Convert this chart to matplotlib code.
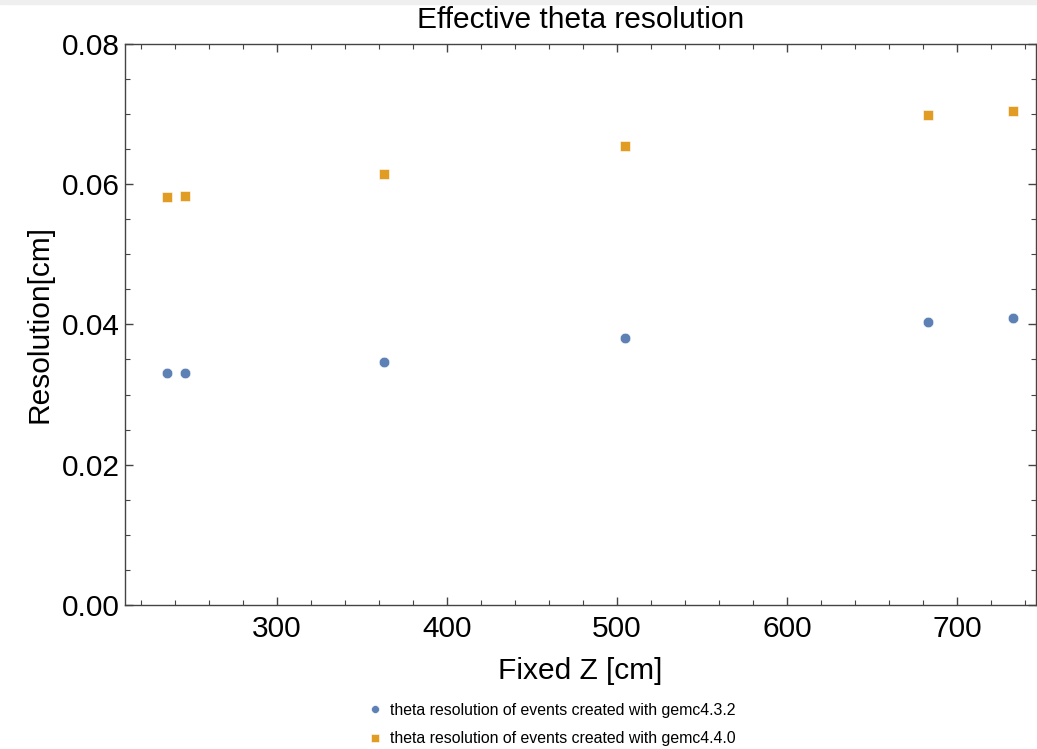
import matplotlib
matplotlib.use("Agg")
import matplotlib.pyplot as plt
from matplotlib.patches import Rectangle
from matplotlib.ticker import MultipleLocator

# fixed Z positions [cm] and theta resolution [cm]
z_cm = [235.5, 246.0, 363.0, 505.0, 683.0, 733.0]
res_gemc432 = [0.0330, 0.0330, 0.0347, 0.0381, 0.0404, 0.0409]
res_gemc440 = [0.0582, 0.0583, 0.0614, 0.0654, 0.0698, 0.0704]
labels = ["theta resolution of events created with gemc4.3.2",
          "theta resolution of events created with gemc4.4.0"]

BLUE = "#5E81B5"
ORANGE = "#E19C24"
FRAME = "#444444"

plt.rcParams.update({"font.family": ["Liberation Sans", "DejaVu Sans"]})

fig = plt.figure(figsize=(10.37, 7.49), dpi=100)
fig.patches.append(Rectangle((0, 1 - 4 / 749), 1, 4 / 749, transform=fig.transFigure,
                             color="#EFEFEF", zorder=-1))
ax = fig.add_axes([125 / 1037, 1 - 605 / 749, 911 / 1037, (605 - 43.7) / 749])

ax.plot(z_cm, res_gemc432, "o", color=BLUE, ms=7.6, mec="white", mew=0.4, label=labels[0])
ax.plot(z_cm, res_gemc440, "s", color=ORANGE, ms=7.6, mec="white", mew=0.4, label=labels[1])

ax.set_xlim(210.6, 746.5)
ax.set_ylim(0, 0.08)
ax.xaxis.set_major_locator(MultipleLocator(100))
ax.xaxis.set_minor_locator(MultipleLocator(20))
ax.yaxis.set_major_locator(MultipleLocator(0.02))
ax.yaxis.set_minor_locator(MultipleLocator(0.005))
ax.yaxis.set_major_formatter(matplotlib.ticker.FormatStrFormatter("%.2f"))

for s in ax.spines.values():
    s.set_color(FRAME)
    s.set_linewidth(1.0)
ax.tick_params(which="both", direction="in", top=True, right=True, color=FRAME)
ax.tick_params(which="major", length=6, width=1.0, labelsize=21.5)
ax.tick_params(axis="x", which="major", pad=7)
ax.tick_params(axis="y", which="major", pad=4)
ax.tick_params(which="minor", length=3.5, width=0.8)

ax.set_title("Effective theta resolution", fontsize=21.5, pad=11)
ax.set_xlabel("Fixed Z [cm]", fontsize=21.5, labelpad=10)
ax.set_ylabel("Resolution[cm]", fontsize=21.5, labelpad=6)

fig.legend(loc="upper left", bbox_to_anchor=(359 / 1037, 1 - 695 / 749), frameon=False,
           fontsize=11.4, handletextpad=0.45, labelspacing=0.85, markerscale=0.75,
           handlelength=1.0, borderpad=0)

fig.savefig("out.png", dpi=100)
